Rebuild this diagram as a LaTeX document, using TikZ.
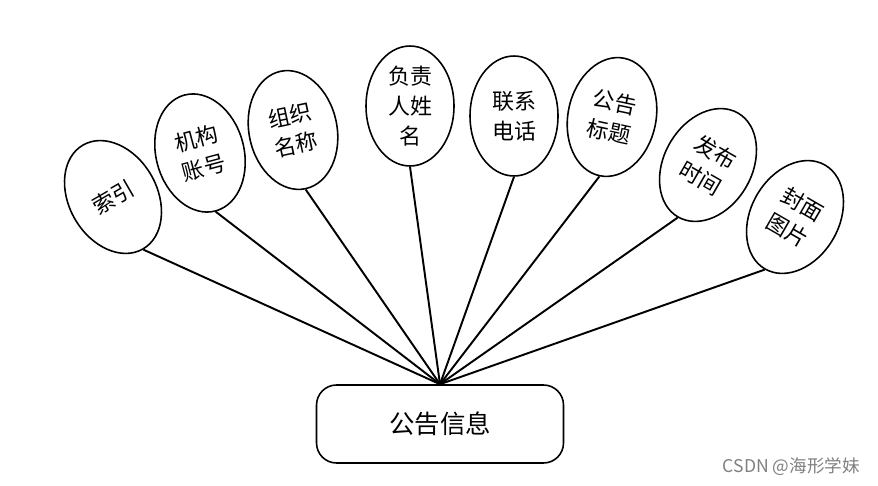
\documentclass[tikz,border=0pt]{standalone}
\usepackage{fontspec}
\newfontfamily\cjk{Noto Sans CJK SC}
\usetikzlibrary{shapes.geometric}

\tikzset{
  attr/.style={draw,ellipse,line width=0.9pt,minimum width=1.76cm,
    minimum height=2.4cm,inner sep=0pt,align=center,
    font=\cjk\fontsize{12.5}{17}\selectfont},
  entity/.style={
    draw,rectangle,rounded corners=0.4cm,
    line width=0.9pt,
    minimum width=4.94cm,minimum height=1.56cm,
    font=\cjk\fontsize{14.5}{17}\selectfont
  },
  link/.style={line width=1.1pt},
}

\begin{document}
\begin{tikzpicture}[x=0.02cm,y=-0.02cm]
\useasboundingbox (0,0) rectangle (878,486);

\node[entity](info) at (440,424) {公告信息};

\node[attr,rotate=30](idx) at (113,197) {索引};
\node[attr,rotate=15](account) at (200,153) {机构\\账号};
\node[attr,rotate=12](orgname) at (293,130) {组织\\名称};
\node[attr](leader) at (410,106) {负责\\人姓\\名};
\node[attr](phone) at (514,116) {联系\\电话};
\node[attr,rotate=-12](title) at (612,117) {公告\\标题};
\node[attr,rotate=-30](pubtime) at (708,165) {发布\\时间};
\node[attr,rotate=-30](cover) at (795,217) {封面\\图片};

\draw [link] (info.north) -- (idx.south);
\draw [link] (info.north) -- (account.south);
\draw [link] (info.north) -- (orgname.south);
\draw [link] (info.north) -- (leader.south);
\draw [link] (info.north) -- (phone.south);
\draw [link] (info.north) -- (title.south);
\draw [link] (info.north) -- (pubtime.south);
\draw [link] (info.north) -- (cover.south);

\node[anchor=east,text=gray,font=\cjk\fontsize{10}{12}\selectfont](mark) at (866,467) {CSDN @海形学妹};

\end{tikzpicture}
\end{document}
